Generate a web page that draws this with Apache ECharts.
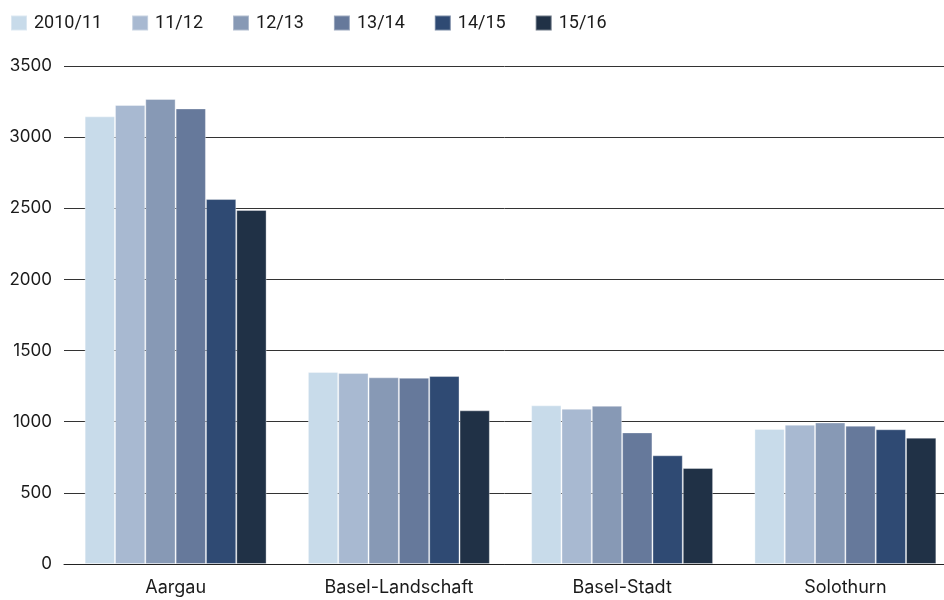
<!DOCTYPE html>
<html>
<head>
<meta charset="utf-8">
<script src="https://cdn.jsdelivr.net/npm/echarts@6/dist/echarts.min.js"></script>
<style>
html,body{margin:0;padding:0;background:#fff;}
#chart{width:944px;height:600px;}
</style>
</head>
<body>
<div id="chart"></div>
<script>
const categories = ['Aargau', 'Basel-Landschaft', 'Basel-Stadt', 'Solothurn'];
const seriesNames = ['2010/11', '11/12', '12/13', '13/14', '14/15', '15/16'];
const s2010_11 = [3146, 1349, 1115, 949];
const s11_12 = [3226, 1342, 1091, 979];
const s12_13 = [3268, 1312, 1112, 995];
const s13_14 = [3202, 1309, 925, 972];
const s14_15 = [2565, 1321, 764, 947];
const s15_16 = [2488, 1080, 675, 888];
const yTicks = [0, 500, 1000, 1500, 2000, 2500, 3000, 3500];

const values = [s2010_11, s11_12, s12_13, s13_14, s14_15, s15_16];
const colors = ['#c8dbea', '#a8b9d1', '#8799b5', '#66799b', '#2f4a73', '#203146'];

const chart = echarts.init(document.getElementById('chart'), null, {renderer: 'canvas'});
chart.setOption({
  animation: false,
  color: colors,
  textStyle: {fontFamily: 'Inter'},
  legend: {
    left: 10,
    top: 14,
    padding: 0,
    itemWidth: 16,
    itemHeight: 15,
    itemGap: 29,
    icon: 'rect',
    textStyle: {fontFamily: 'Roboto', fontSize: 18, color: '#1a1a1a', padding: [0, 0, 0, 2]},
    data: seriesNames
  },
  grid: {left: 64, width: 893, top: 66, bottom: 36, containLabel: false, outerBoundsMode: 'none'},
  xAxis: {
    type: 'category',
    data: categories,
    axisTick: {show: false},
    axisLine: {lineStyle: {color: '#222', width: 1}},
    axisLabel: {fontFamily: 'Inter', fontSize: 18, color: '#1a1a1a', margin: 15}
  },
  yAxis: {
    type: 'value',
    min: yTicks[0],
    max: yTicks[yTicks.length - 1],
    interval: 500,
    axisLine: {show: false},
    axisTick: {show: false},
    axisLabel: {fontFamily: 'Inter', fontSize: 17, color: '#1a1a1a', margin: 12, formatter: v => String(v)},
    splitLine: {lineStyle: {color: '#333', width: 1}}
  },
  series: seriesNames.map((name, i) => ({
    name: name,
    type: 'bar',
    data: values[i],
    barGap: '0%',
    barCategoryGap: '18.5%',
    itemStyle: {color: colors[i], borderColor: 'rgba(255,255,255,0.35)', borderWidth: 1}
  }))
});
</script>
</body>
</html>
